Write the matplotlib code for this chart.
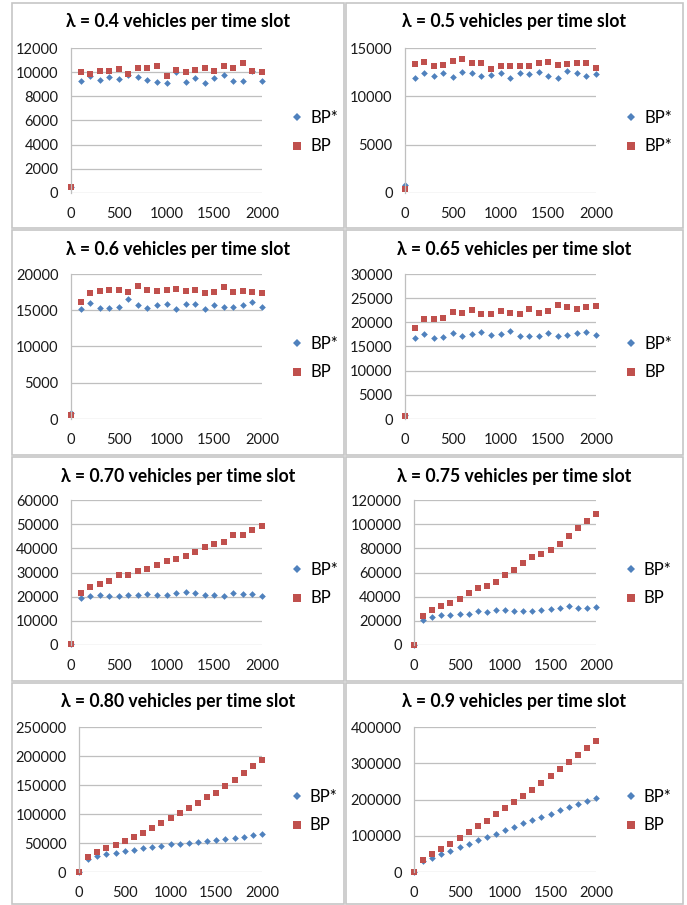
import matplotlib
matplotlib.use("Agg")
import matplotlib.pyplot as plt
from matplotlib.patches import Rectangle

plt.rcParams['font.family'] = ['Lato', 'DejaVu Sans']

slots = list(range(0, 2001, 100))

titles = ["λ = 0.4 vehicles per time slot", "λ = 0.5 vehicles per time slot",
          "λ = 0.6 vehicles per time slot", "λ = 0.65 vehicles per time slot",
          "λ = 0.70 vehicles per time slot", "λ = 0.75 vehicles per time slot",
          "λ = 0.80 vehicles per time slot", "λ = 0.9 vehicles per time slot"]

# legend labels (the 0.5 panel says BP* twice in the original)
labels = [("BP*", "BP"), ("BP*", "BP*"), ("BP*", "BP"), ("BP*", "BP"),
          ("BP*", "BP"), ("BP*", "BP"), ("BP*", "BP"), ("BP*", "BP")]

ymax = [12000, 15000, 20000, 30000, 60000, 120000, 250000, 400000]
ystep = [2000, 5000, 5000, 5000, 10000, 20000, 50000, 100000]

bpstar_04 = [500, 9270, 9650, 9350, 9600, 9430, 9740, 9600, 9320, 9210, 9100,
             9990, 9210, 9520, 9100, 9540, 9740, 9240, 9240, 10070, 9270]
bp_04 = [500, 10040, 9820, 10100, 10100, 10230, 9820, 10370, 10320, 10540, 9710,
         10180, 10040, 10180, 10320, 10100, 10540, 10320, 10730, 10120, 9990]

bpstar_05 = [800, 11860, 12380, 12140, 12410, 12000, 12520, 12380, 12140, 12240, 12380,
             11930, 12380, 12280, 12550, 12070, 11860, 12660, 12450, 12140, 12310]
bp_05 = [450, 13340, 13520, 13140, 13240, 13660, 13830, 13480, 13450, 12790, 13100,
         13170, 13170, 13100, 13480, 13520, 13280, 13340, 13450, 13450, 12970]

bpstar_06 = [880, 15160, 15940, 15300, 15300, 15480, 16500, 15670, 15300, 15670, 15850,
             15210, 15900, 15900, 15160, 15710, 15390, 15390, 15710, 16170, 15390]
bp_06 = [510, 16130, 17330, 17700, 17790, 17790, 17470, 18340, 17830, 17650, 17790,
         17930, 17700, 17790, 17370, 17470, 18200, 17470, 17600, 17470, 17370]

bpstar_065 = [800, 16860, 17550, 16660, 16930, 17830, 17210, 17550, 18100, 17280, 17550,
              18240, 17210, 17210, 17070, 17830, 17070, 17340, 17690, 17960, 17340]
bp_065 = [690, 18860, 20650, 20780, 20990, 22160, 21960, 22640, 21820, 21680, 22440,
          21960, 21680, 22850, 21960, 22300, 23610, 23130, 22780, 23130, 23470]

bpstar_070 = [550, 19360, 20190, 20600, 20470, 20470, 20880, 20600, 21020, 20880, 20600,
              21580, 22130, 21580, 20880, 20880, 20470, 21440, 21160, 21160, 20190]
bp_070 = [550, 21440, 24070, 25310, 26420, 28770, 29050, 30430, 31260, 33200, 34580,
          35690, 36650, 38590, 40390, 41770, 42460, 45640, 45640, 47580, 49380]

bpstar_075 = [300, 21010, 23500, 24610, 24610, 25710, 25710, 28200, 27100, 29030, 29030,
              27920, 27920, 27920, 29030, 29580, 30690, 32070, 30410, 30410, 31520]
bp_075 = [300, 23780, 28750, 32620, 35110, 38430, 43410, 47280, 49210, 52530, 58060,
          61930, 67740, 72990, 75480, 78800, 83500, 90410, 96490, 102580, 108380]

bpstar_080 = [500, 22360, 27520, 30390, 32680, 35550, 37270, 41860, 43000, 45300, 47590,
              48170, 49890, 51610, 53900, 55620, 56770, 58490, 60210, 63070, 65940]
bp_080 = [500, 26380, 33830, 40710, 47020, 52750, 59630, 66510, 75690, 84860, 92890,
          102060, 110090, 119270, 129010, 137040, 149080, 159400, 170870, 182340, 193810]

bpstar_09 = [500, 29360, 38530, 48620, 57800, 67890, 77060, 87160, 96330, 105500, 114680,
             124770, 133940, 143120, 152290, 160550, 169720, 179820, 188070, 196330, 205500]
bp_09 = [500, 32110, 48620, 64220, 77980, 94500, 109170, 125690, 141280, 159630, 175230,
         192660, 211010, 227520, 246790, 264220, 284400, 303670, 322940, 341280, 360550]

series = [(bpstar_04, bp_04), (bpstar_05, bp_05), (bpstar_06, bp_06), (bpstar_065, bp_065),
          (bpstar_070, bp_070), (bpstar_075, bp_075), (bpstar_080, bp_080), (bpstar_09, bp_09)]

W, H = 687, 905
fig = plt.figure(figsize=(W / 100, H / 100), dpi=100)

def frac(x0, y0, x1, y1):
    # pixel box (top-left origin) to figure fraction
    return [x0 / W, 1 - y1 / H, (x1 - x0) / W, (y1 - y0) / H]

# panel frames in pixels
cols = [(12, 344), (346, 683)]
rows = [(3, 228), (230, 455), (457, 681), (683, 904)]
# plot area: left edge per panel, top/bottom per row
plot_left = [71, 405, 71, 405, 71, 414, 79, 414]
plot_right = [262, 596]
plot_rows = [(48, 193), (274, 419), (500, 645), (727, 872)]

blue = "#4F81BD"
red = "#C0504D"

for i in range(8):
    r, c = divmod(i, 2)
    bx0, bx1 = cols[c]
    by0, by1 = rows[r]
    fig.patches.append(Rectangle((bx0 / W, 1 - by1 / H), (bx1 - bx0) / W, (by1 - by0) / H,
                                 transform=fig.transFigure, fill=False,
                                 edgecolor="#c6c6c6", linewidth=1.2))
    # title is centred on the whole chart box, like Excel does
    fig.text((bx0 + bx1) / 2 / W, 1 - (by0 + 19) / H, titles[i], ha="center", va="center",
             fontsize=12.7, fontweight="bold")

    py0, py1 = plot_rows[r]
    ax = fig.add_axes(frac(plot_left[i], py0, plot_right[c], py1))
    s1, s2 = series[i]
    l1, = ax.plot(slots, s1, linestyle="none", marker="D", markersize=3.4,
                  color=blue, markeredgewidth=0, clip_on=False)
    l2, = ax.plot(slots, s2, linestyle="none", marker="s", markersize=4.7,
                  color=red, markeredgewidth=0, clip_on=False)
    ax.set_xlim(0, 2000)
    ax.set_ylim(0, ymax[i])
    ax.set_xticks(range(0, 2001, 500))
    ax.set_yticks(range(0, ymax[i] + 1, ystep[i]))
    ax.grid(axis="y", color="#bfbfbf", linewidth=0.9)
    ax.set_axisbelow(True)
    for side in ["top", "right", "bottom"]:
        ax.spines[side].set_visible(False)
    ax.spines["left"].set_color("#bfbfbf")
    ax.spines["left"].set_linewidth(0.9)
    ax.tick_params(length=0, labelsize=10.5, colors="#1a1a1a")
    ax.tick_params(axis="y", pad=9)
    ax.tick_params(axis="x", pad=10)
    leg = ax.legend([l1, l2], list(labels[i]), loc="center left",
                    bbox_to_anchor=(1.08, 0.42), frameon=False, fontsize=12,
                    handlelength=0.6, handletextpad=0.5, labelspacing=0.75,
                    markerscale=1.15)

fig.savefig("out.png", dpi=100)
